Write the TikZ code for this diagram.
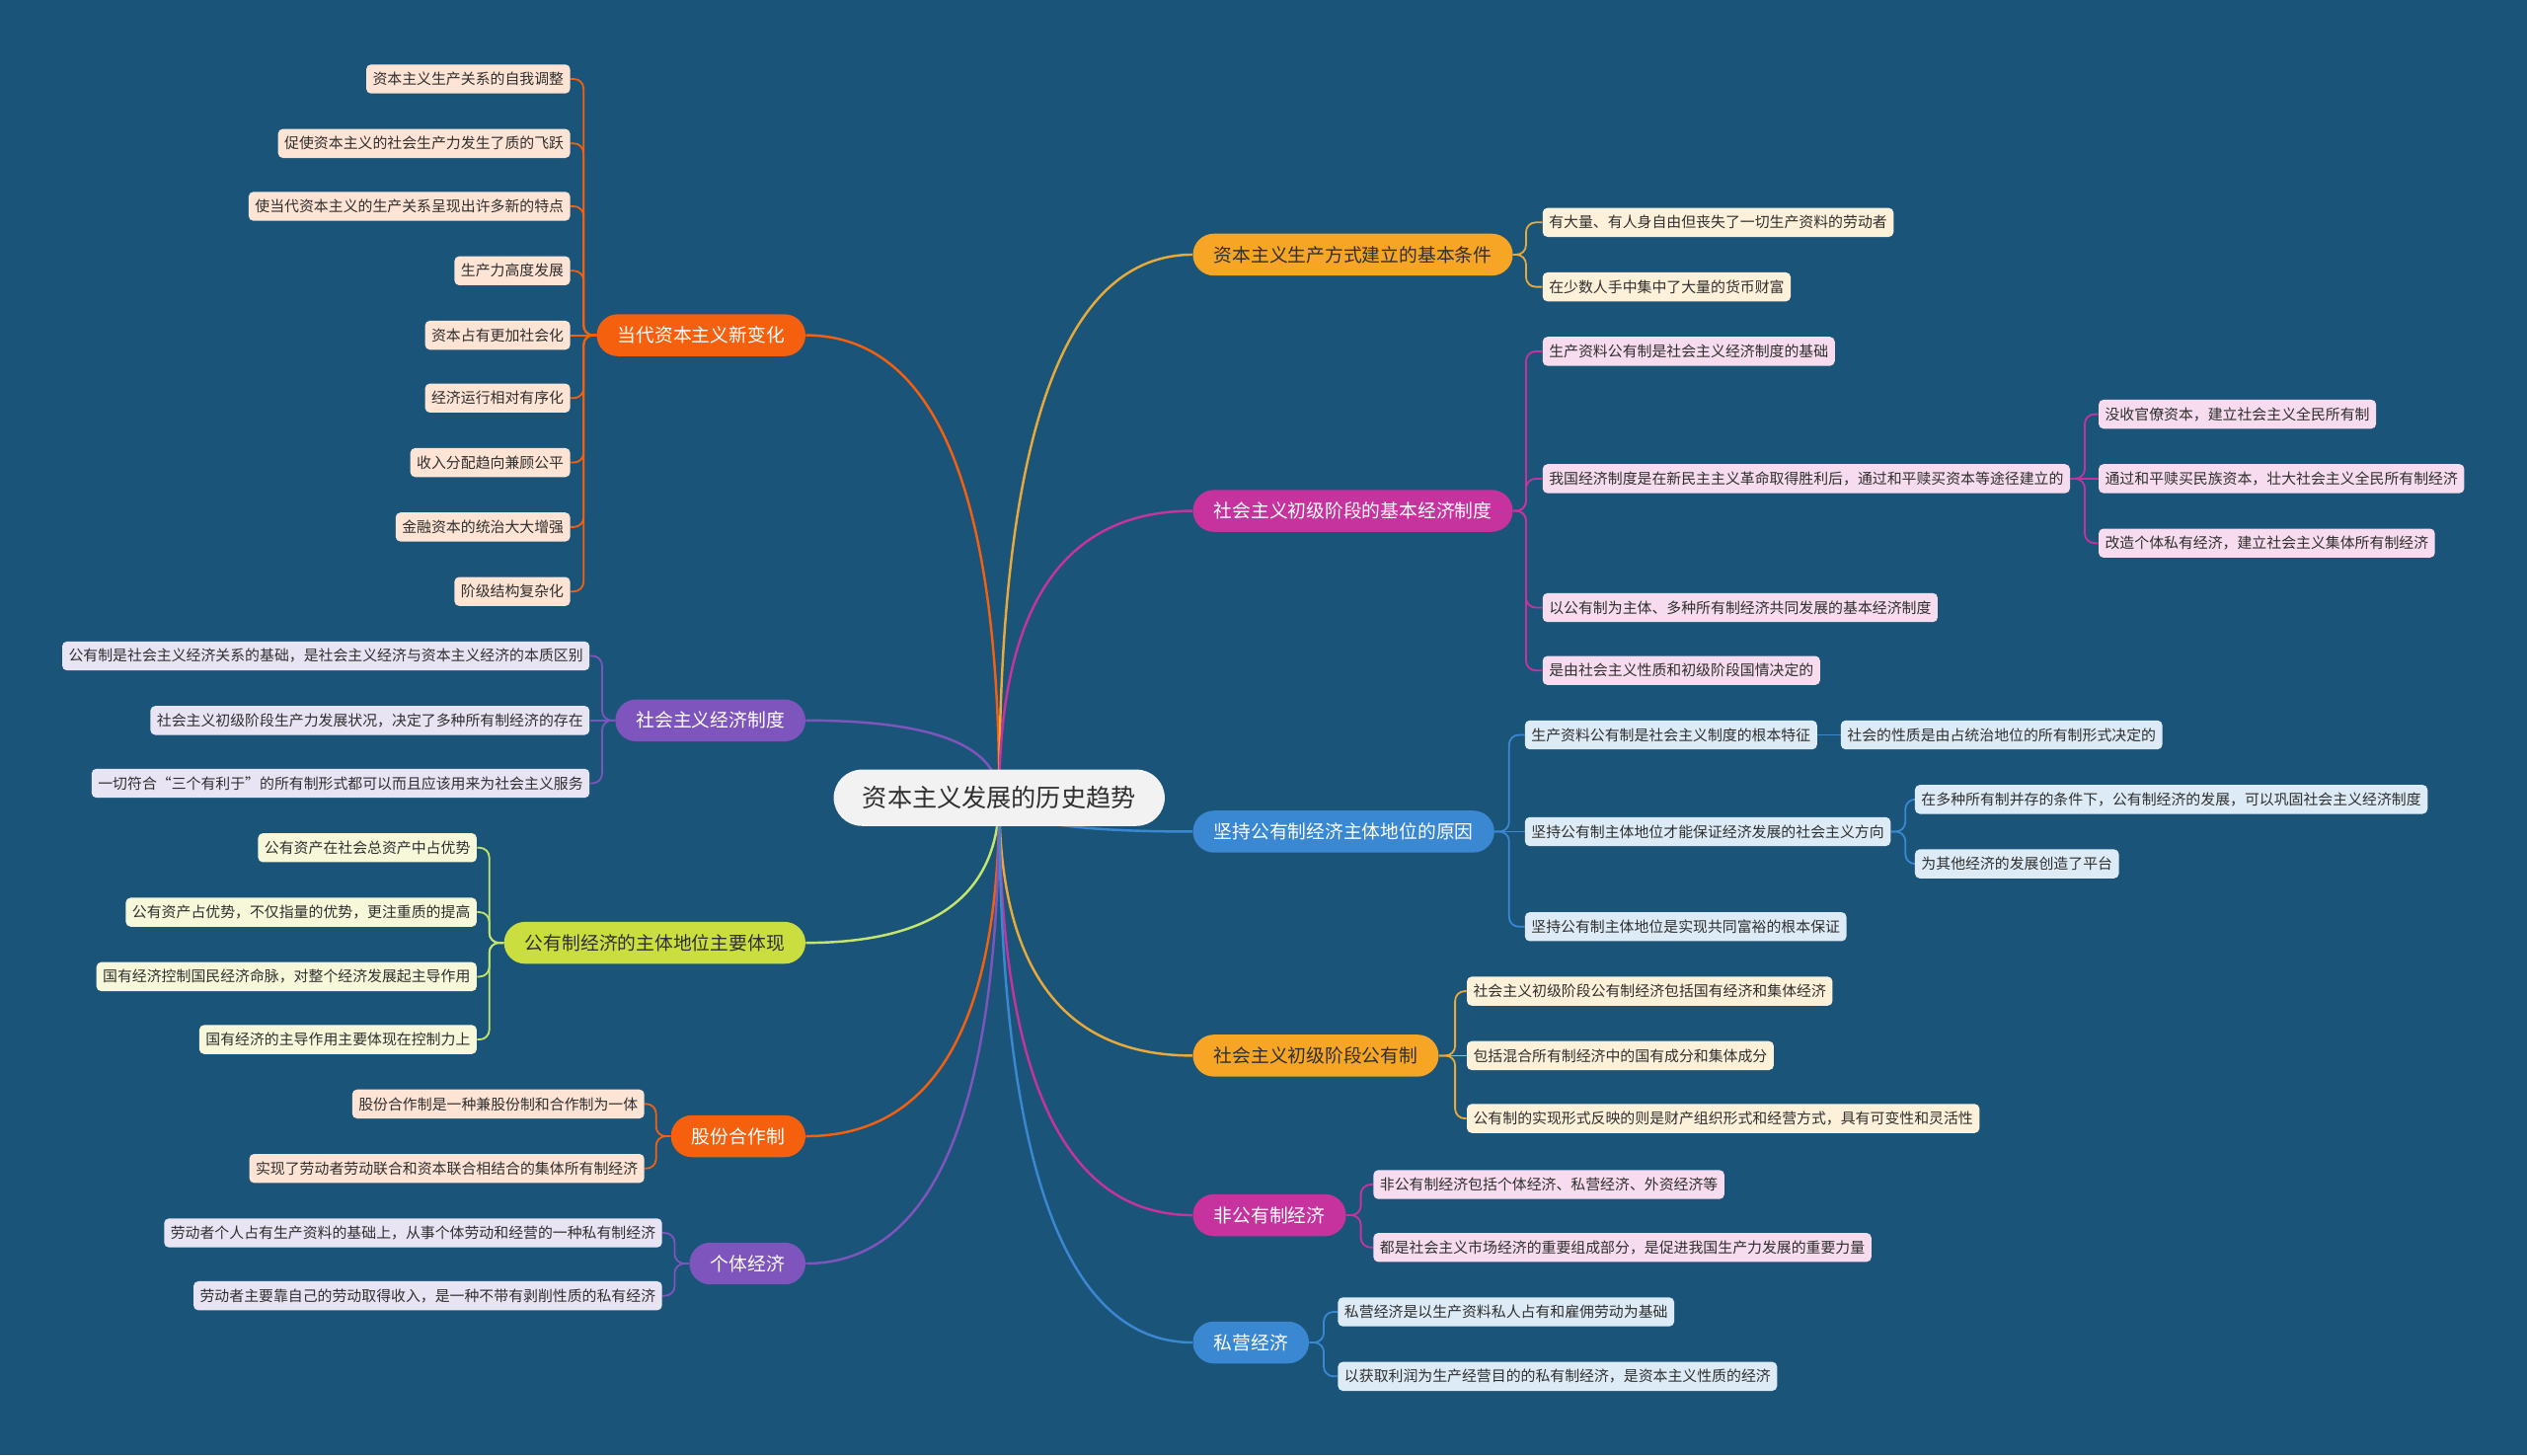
\documentclass[tikz,border=0pt]{standalone}
\usepackage{fontspec}
\newfontfamily\cjk{Noto Sans CJK SC}
\usepackage{xcolor}

\definecolor{bgblue}{HTML}{1B5479}
\definecolor{rootbg}{HTML}{F2F2F2}
\definecolor{txt}{HTML}{2F2F2F}
\definecolor{cOrange}{HTML}{F5600F}
\definecolor{cPurple}{HTML}{7E55BD}
\definecolor{cLime}{HTML}{CADF3F}
\definecolor{lLime}{HTML}{C4E66D}
\definecolor{cGold}{HTML}{F6A624}
\definecolor{lGold}{HTML}{E8AA3A}
\definecolor{cMagenta}{HTML}{C7339E}
\definecolor{cBlue}{HTML}{3A88D2}
\definecolor{fPeach}{HTML}{FEE4D4}
\definecolor{fLav}{HTML}{E9E4F4}
\definecolor{fLime}{HTML}{F6F8D9}
\definecolor{fCream}{HTML}{FEF1D9}
\definecolor{fPink}{HTML}{F6DCEE}
\definecolor{fSky}{HTML}{DDEBF6}

\pgfdeclarelayer{back}
\pgfdeclarelayer{lines}
\pgfsetlayers{back,lines,main}

\tikzset{
  root/.style={fill=rootbg, text=txt, font=\cjk\fontsize{15.4}{17}\selectfont, rounded corners=17.5pt, minimum height=35pt, inner xsep=18pt, inner ysep=0pt},
  topic/.style={rounded corners=13pt, minimum height=26pt, inner xsep=13pt, inner ysep=0pt, font=\cjk\fontsize{11.5}{13}\selectfont},
  leaf/.style={rounded corners=3pt, minimum height=18pt, inner xsep=4pt, inner ysep=0pt, text=txt, font=\cjk\fontsize{9.12}{11}\selectfont},
  lnk/.style={line width=1.5pt},
  sub/.style={line width=1.1pt, rounded corners=6pt},
}

\begin{document}
\begin{tikzpicture}[x=1pt,y=1pt,yscale=-1,xscale=1]
	\begin{pgfonlayer}{back}
		\fill[bgblue] (0,0) rectangle (1568,903);
	\end{pgfonlayer}
	% centre
	\node[root] (ctr) at (620,495) {资本主义发展的历史趋势};
	% left topics
	\node[topic, fill=cOrange, text=white, anchor=east] (xinbh) at (500,208) {当代资本主义新变化};
	\node[topic, fill=cPurple, text=white, anchor=east] (zhidu) at (500,447) {社会主义经济制度};
	\node[topic, fill=cLime, text=txt, anchor=east] (tixian) at (500,585) {公有制经济的主体地位主要体现};
	\node[topic, fill=cOrange, text=white, anchor=east] (gufen) at (500,705) {股份合作制};
	\node[topic, fill=cPurple, text=white, anchor=east] (geti) at (500,784) {个体经济};
	% right topics
	\node[topic, fill=cGold, text=txt, anchor=west] (tiaojian) at (740,158) {资本主义生产方式建立的基本条件};
	\node[topic, fill=cMagenta, text=white, anchor=west] (jiben) at (740,317) {社会主义初级阶段的基本经济制度};
	\node[topic, fill=cBlue, text=white, anchor=west] (yuanyin) at (740,516) {坚持公有制经济主体地位的原因};
	\node[topic, fill=cGold, text=txt, anchor=west] (gongyou) at (740,655) {社会主义初级阶段公有制};
	\node[topic, fill=cMagenta, text=white, anchor=west] (feigong) at (740,754) {非公有制经济};
	\node[topic, fill=cBlue, text=white, anchor=west] (siying) at (740,833) {私营经济};

	% leaves of xinbh
	\node[leaf, fill=fPeach, anchor=east] (xa) at (354,49) {资本主义生产关系的自我调整};
	\node[leaf, fill=fPeach, anchor=east] (xb) at (354,89) {促使资本主义的社会生产力发生了质的飞跃};
	\node[leaf, fill=fPeach, anchor=east] (xc) at (354,128) {使当代资本主义的生产关系呈现出许多新的特点};
	\node[leaf, fill=fPeach, anchor=east] (xd) at (354,168) {生产力高度发展};
	\node[leaf, fill=fPeach, anchor=east] (xe) at (354,208) {资本占有更加社会化};
	\node[leaf, fill=fPeach, anchor=east] (xf) at (354,247) {经济运行相对有序化};
	\node[leaf, fill=fPeach, anchor=east] (xg) at (354,287) {收入分配趋向兼顾公平};
	\node[leaf, fill=fPeach, anchor=east] (xh) at (354,327) {金融资本的统治大大增强};
	\node[leaf, fill=fPeach, anchor=east] (xi) at (354,367) {阶级结构复杂化};
	% leaves of zhidu
	\node[leaf, fill=fLav, anchor=east] (za) at (366,407) {公有制是社会主义经济关系的基础，是社会主义经济与资本主义经济的本质区别};
	\node[leaf, fill=fLav, anchor=east] (zb) at (366,447) {社会主义初级阶段生产力发展状况，决定了多种所有制经济的存在};
	\node[leaf, fill=fLav, anchor=east] (zc) at (366,486) {一切符合“三个有利于”的所有制形式都可以而且应该用来为社会主义服务};
	% leaves of tixian
	\node[leaf, fill=fLime, anchor=east] (ta) at (296,526) {公有资产在社会总资产中占优势};
	\node[leaf, fill=fLime, anchor=east] (tb) at (296,566) {公有资产占优势，不仅指量的优势，更注重质的提高};
	\node[leaf, fill=fLime, anchor=east] (tc) at (296,606) {国有经济控制国民经济命脉，对整个经济发展起主导作用};
	\node[leaf, fill=fLime, anchor=east] (td) at (296,645) {国有经济的主导作用主要体现在控制力上};
	% leaves of gufen
	\node[leaf, fill=fPeach, anchor=east] (ga) at (400,685) {股份合作制是一种兼股份制和合作制为一体};
	\node[leaf, fill=fPeach, anchor=east] (gb) at (400,725) {实现了劳动者劳动联合和资本联合相结合的集体所有制经济};
	% leaves of geti
	\node[leaf, fill=fLav, anchor=east] (ia) at (411,765) {劳动者个人占有生产资料的基础上，从事个体劳动和经营的一种私有制经济};
	\node[leaf, fill=fLav, anchor=east] (ib) at (411,804) {劳动者主要靠自己的劳动取得收入，是一种不带有剥削性质的私有经济};

	% leaves of tiaojian
	\node[leaf, fill=fCream, anchor=west] (ka) at (957,138) {有大量、有人身自由但丧失了一切生产资料的劳动者};
	\node[leaf, fill=fCream, anchor=west] (kb) at (957,178) {在少数人手中集中了大量的货币财富};
	% leaves of jiben
	\node[leaf, fill=fPink, anchor=west] (ja) at (957,218) {生产资料公有制是社会主义经济制度的基础};
	\node[leaf, fill=fPink, anchor=west] (jb) at (957,297) {我国经济制度是在新民主主义革命取得胜利后，通过和平赎买资本等途径建立的};
	\node[leaf, fill=fPink, anchor=west] (jc) at (957,377) {以公有制为主体、多种所有制经济共同发展的基本经济制度};
	\node[leaf, fill=fPink, anchor=west] (jd) at (957,416) {是由社会主义性质和初级阶段国情决定的};
	\node[leaf, fill=fPink, anchor=west] (jba) at (1302,257) {没收官僚资本，建立社会主义全民所有制};
	\node[leaf, fill=fPink, anchor=west] (jbb) at (1302,297) {通过和平赎买民族资本，壮大社会主义全民所有制经济};
	\node[leaf, fill=fPink, anchor=west] (jbc) at (1302,337) {改造个体私有经济，建立社会主义集体所有制经济};
	% leaves of yuanyin
	\node[leaf, fill=fSky, anchor=west] (ya) at (946,456) {生产资料公有制是社会主义制度的根本特征};
	\node[leaf, fill=fSky, anchor=west] (yb) at (946,516) {坚持公有制主体地位才能保证经济发展的社会主义方向};
	\node[leaf, fill=fSky, anchor=west] (yc) at (946,575) {坚持公有制主体地位是实现共同富裕的根本保证};
	\node[leaf, fill=fSky, anchor=west] (yaa) at (1142,456) {社会的性质是由占统治地位的所有制形式决定的};
	\node[leaf, fill=fSky, anchor=west] (yba) at (1188,496) {在多种所有制并存的条件下，公有制经济的发展，可以巩固社会主义经济制度};
	\node[leaf, fill=fSky, anchor=west] (ybb) at (1188,536) {为其他经济的发展创造了平台};
	% leaves of gongyou
	\node[leaf, fill=fCream, anchor=west] (oa) at (910,615) {社会主义初级阶段公有制经济包括国有经济和集体经济};
	\node[leaf, fill=fCream, anchor=west] (ob) at (910,655) {包括混合所有制经济中的国有成分和集体成分};
	\node[leaf, fill=fCream, anchor=west] (oc) at (910,694) {公有制的实现形式反映的则是财产组织形式和经营方式，具有可变性和灵活性};
	% leaves of feigong
	\node[leaf, fill=fPink, anchor=west] (fa) at (852,735) {非公有制经济包括个体经济、私营经济、外资经济等};
	\node[leaf, fill=fPink, anchor=west] (fb) at (852,774) {都是社会主义市场经济的重要组成部分，是促进我国生产力发展的重要力量};
	% leaves of siying
	\node[leaf, fill=fSky, anchor=west] (sa) at (830,814) {私营经济是以生产资料私人占有和雇佣劳动为基础};
	\node[leaf, fill=fSky, anchor=west] (sb) at (830,854) {以获取利润为生产经营目的的私有制经济，是资本主义性质的经济};

	\begin{pgfonlayer}{lines}
		% centre to topics
		\draw[lnk, cOrange]  (ctr.center) .. controls +(0,-191) and +(80,0) .. (xinbh.east);
		\draw[lnk, cPurple]  (ctr.center) .. controls +(0,-32) and +(80,0) .. (zhidu.east);
		\draw[lnk, lLime]    (ctr.center) .. controls +(0,60) and +(80,0) .. (tixian.east);
		\draw[lnk, cOrange]  (ctr.center) .. controls +(0,140) and +(80,0) .. (gufen.east);
		\draw[lnk, cPurple]  (ctr.center) .. controls +(0,193) and +(80,0) .. (geti.east);
		\draw[lnk, lGold]    (ctr.center) .. controls +(0,-225) and +(-80,0) .. (tiaojian.west);
		\draw[lnk, cMagenta] (ctr.center) .. controls +(0,-119) and +(-80,0) .. (jiben.west);
		\draw[lnk, cBlue]    (ctr.center) .. controls +(0,14) and +(-80,0) .. (yuanyin.west);
		\draw[lnk, lGold]    (ctr.center) .. controls +(0,107) and +(-80,0) .. (gongyou.west);
		\draw[lnk, cMagenta] (ctr.center) .. controls +(0,173) and +(-80,0) .. (feigong.west);
		\draw[lnk, cBlue]    (ctr.center) .. controls +(0,225) and +(-80,0) .. (siying.west);
		% topics to leaves
		\draw[sub, cOrange] (xinbh.west) -- ++(-8,0) |- (xa.east);
		\draw[sub, cOrange] (xinbh.west) -- ++(-8,0) |- (xb.east);
		\draw[sub, cOrange] (xinbh.west) -- ++(-8,0) |- (xc.east);
		\draw[sub, cOrange] (xinbh.west) -- ++(-8,0) |- (xd.east);
		\draw[sub, cOrange] (xinbh.west) -- (xe.east);
		\draw[sub, cOrange] (xinbh.west) -- ++(-8,0) |- (xf.east);
		\draw[sub, cOrange] (xinbh.west) -- ++(-8,0) |- (xg.east);
		\draw[sub, cOrange] (xinbh.west) -- ++(-8,0) |- (xh.east);
		\draw[sub, cOrange] (xinbh.west) -- ++(-8,0) |- (xi.east);
		\draw[sub, cPurple] (zhidu.west) -- ++(-8,0) |- (za.east);
		\draw[sub, cPurple] (zhidu.west) -- (zb.east);
		\draw[sub, cPurple] (zhidu.west) -- ++(-8,0) |- (zc.east);
		\draw[sub, lLime] (tixian.west) -- ++(-9,0) |- (ta.east);
		\draw[sub, lLime] (tixian.west) -- ++(-9,0) |- (tb.east);
		\draw[sub, lLime] (tixian.west) -- ++(-9,0) |- (tc.east);
		\draw[sub, lLime] (tixian.west) -- ++(-9,0) |- (td.east);
		\draw[sub, cOrange] (gufen.west) -- ++(-9,0) |- (ga.east);
		\draw[sub, cOrange] (gufen.west) -- ++(-9,0) |- (gb.east);
		\draw[sub, cPurple] (geti.west) -- ++(-9,0) |- (ia.east);
		\draw[sub, cPurple] (geti.west) -- ++(-9,0) |- (ib.east);
		\draw[sub, lGold] (tiaojian.east) -- ++(8,0) |- (ka.west);
		\draw[sub, lGold] (tiaojian.east) -- ++(8,0) |- (kb.west);
		\draw[sub, cMagenta] (jiben.east) -- ++(8,0) |- (ja.west);
		\draw[sub, cMagenta] (jiben.east) -- ++(8,0) |- (jb.west);
		\draw[sub, cMagenta] (jiben.east) -- ++(8,0) |- (jc.west);
		\draw[sub, cMagenta] (jiben.east) -- ++(8,0) |- (jd.west);
		\draw[sub, cMagenta] (jb.east) -- ++(9,0) |- (jba.west);
		\draw[sub, cMagenta] (jb.east) -- (jbb.west);
		\draw[sub, cMagenta] (jb.east) -- ++(9,0) |- (jbc.west);
		\draw[sub, cBlue] (yuanyin.east) -- ++(9,0) |- (ya.west);
		\draw[sub, cBlue] (yuanyin.east) -- (yb.west);
		\draw[sub, cBlue] (yuanyin.east) -- ++(9,0) |- (yc.west);
		\draw[sub, cBlue] (ya.east) -- (yaa.west);
		\draw[sub, cBlue] (yb.east) -- ++(9,0) |- (yba.west);
		\draw[sub, cBlue] (yb.east) -- ++(9,0) |- (ybb.west);
		\draw[sub, lGold] (gongyou.east) -- ++(10,0) |- (oa.west);
		\draw[sub, lGold] (gongyou.east) -- (ob.west);
		\draw[sub, lGold] (gongyou.east) -- ++(10,0) |- (oc.west);
		\draw[sub, cMagenta] (feigong.east) -- ++(9,0) |- (fa.west);
		\draw[sub, cMagenta] (feigong.east) -- ++(9,0) |- (fb.west);
		\draw[sub, cBlue] (siying.east) -- ++(9,0) |- (sa.west);
		\draw[sub, cBlue] (siying.east) -- ++(9,0) |- (sb.west);
	\end{pgfonlayer}
\end{tikzpicture}
\end{document}
